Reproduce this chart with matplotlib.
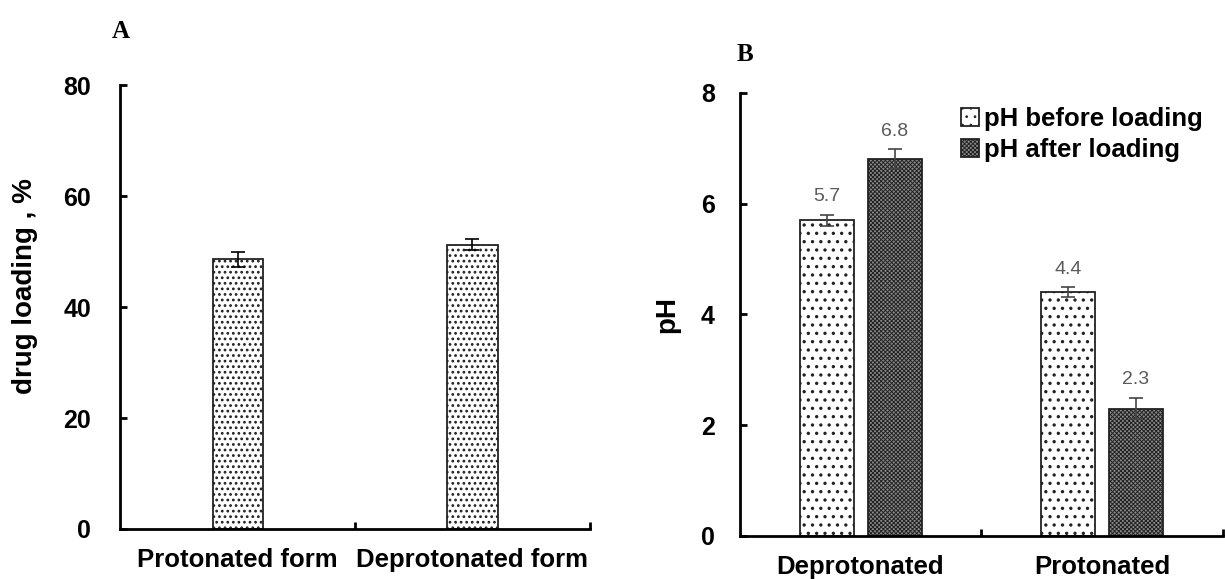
import numpy as np
import matplotlib
matplotlib.use("Agg")
import matplotlib.pyplot as plt

plt.rcParams["font.family"] = ["Liberation Sans", "DejaVu Sans"]
plt.rcParams["hatch.linewidth"] = 1.2

# panel A
forms_a = ["Protonated form", "Deprotonated form"]
loading = [48.6, 51.2]
loading_err = [1.3, 1.0]

# panel B
forms_b = ["Deprotonated", "Protonated"]
ph_before = [5.7, 4.4]
ph_before_err = [0.1, 0.09]
ph_after = [6.8, 2.3]
ph_after_err = [0.18, 0.19]


def style_axes(ax, pad):
    for s in ["top", "right"]:
        ax.spines[s].set_visible(False)
    for s in ["left", "bottom"]:
        ax.spines[s].set_linewidth(2.0)
    ax.tick_params(axis="y", direction="in", length=5, width=2,
                   labelsize=18, pad=pad)
    ax.tick_params(axis="x", which="minor", direction="in", length=5, width=2)
    ax.tick_params(axis="x", which="major", length=0, labelsize=18.5, pad=14)
    for lbl in ax.get_yticklabels():
        lbl.set_fontweight("bold")


fig = plt.figure(figsize=(12.25, 5.79), dpi=100)

# ---- A ----
ax1 = fig.add_axes([0.098, 0.0864, 0.3836, 0.7666])
x = np.arange(len(forms_a))
ax1.bar(x, loading, width=0.213, color="white", edgecolor="#222222",
        linewidth=1.3, hatch="...")
ax1.errorbar(x, loading, yerr=loading_err, fmt="none", ecolor="black",
             elinewidth=1.2, capsize=5, capthick=1.2)
ax1.set_xlim(-0.5, 1.5)
ax1.set_ylim(0, 80)
ax1.set_yticks([0, 20, 40, 60, 80])
ax1.set_xticks(x)
ax1.set_xticklabels(forms_a, fontweight="bold")
ax1.set_xticks([0.5, 1.5], minor=True)
style_axes(ax1, 21)
ax1.set_ylabel("drug loading , %", fontsize=20, fontweight="bold")
ax1.yaxis.set_label_coords(-0.174, 0.547)
fig.text(0.091, 0.935, "A", fontsize=18, fontweight="bold",
         family="Liberation Serif")

# ---- B ----
ax2 = fig.add_axes([0.604, 0.0743, 0.394, 0.7651])
xb = np.arange(len(forms_b))
w = 0.224
off = 0.141
ax2.bar(xb - off, ph_before, width=w, color="white", edgecolor="#222222",
        linewidth=1.3, hatch="..", label="pH before loading")
plt.rcParams["hatch.linewidth"] = 0.7
ax2.bar(xb + off, ph_after, width=w, color="#8a8a8a", edgecolor="#222222",
        linewidth=1.3, hatch="xxxxxxxx", label="pH after loading")
ax2.errorbar(xb - off, ph_before, yerr=ph_before_err, fmt="none",
             ecolor="#444444", elinewidth=1.2, capsize=5, capthick=1.2)
ax2.errorbar(xb + off, ph_after, yerr=ph_after_err, fmt="none",
             ecolor="#444444", elinewidth=1.2, capsize=5, capthick=1.2)
for xs, vals, errs in [(xb - off, ph_before, ph_before_err),
                       (xb + off, ph_after, ph_after_err)]:
    for xi, v, e in zip(xs, vals, errs):
        ax2.annotate(f"{v:.1f}", (xi, v + e), xytext=(0, 7),
                     textcoords="offset points", ha="center", va="bottom",
                     fontsize=14, color="#5a5a5a")
ax2.set_xlim(-0.5, 1.5)
ax2.set_ylim(0, 8)
ax2.set_yticks([0, 2, 4, 6, 8])
ax2.set_xticks(xb)
ax2.set_xticklabels(forms_b, fontweight="bold")
ax2.set_xticks([0.5, 1.5], minor=True)
style_axes(ax2, 18)
ax2.set_ylabel("pH", fontsize=20, fontweight="bold")
ax2.yaxis.set_label_coords(-0.124, 0.499)
leg = ax2.legend(loc="upper left", bbox_to_anchor=(0.41, 1.02), frameon=False,
                 prop={"size": 18.5, "weight": "bold"}, handlelength=0.7,
                 handleheight=0.7, handletextpad=0.2, labelspacing=0.25)
fig.text(0.601, 0.895, "B", fontsize=18, fontweight="bold",
         family="Liberation Serif")

fig.savefig("out.png", dpi=100)
